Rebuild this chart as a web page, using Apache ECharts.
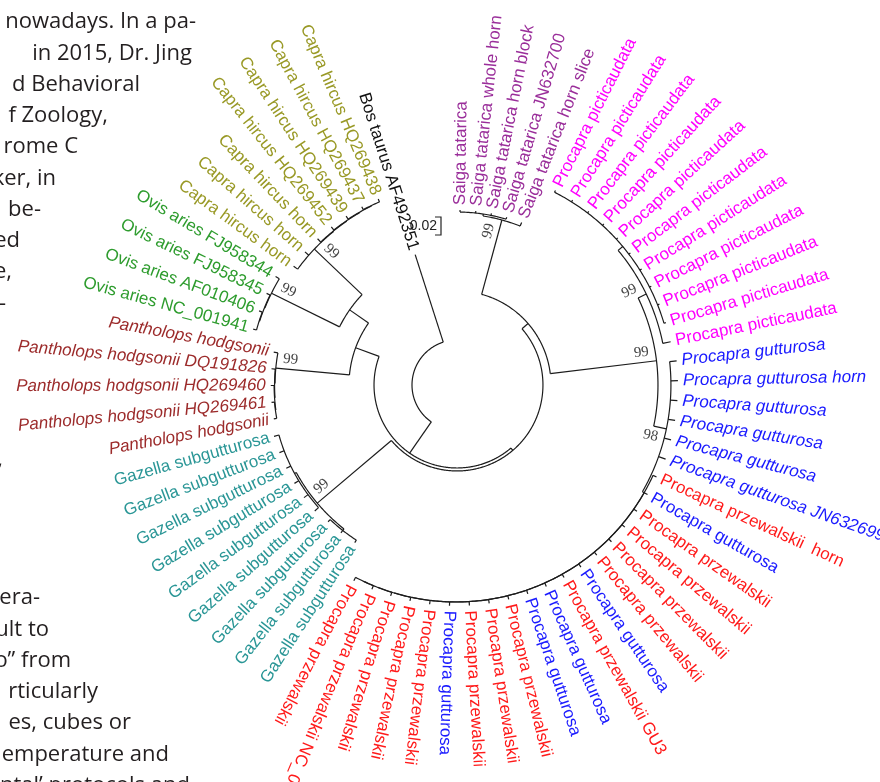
<!DOCTYPE html>
<html><head><meta charset="utf-8">
<script src="https://cdn.jsdelivr.net/npm/echarts@6.0.0/dist/echarts.min.js"></script>
<style>html,body{margin:0;padding:0;background:#fff}#chart{width:880px;height:782px}</style>
</head><body><div id="chart"></div>
<script>
// ================= DATA =================
const leafNames = [
  'Saiga tatarica','Saiga tatarica whole horn','Saiga tatarica horn block','Saiga tatarica JN632700','Saiga tatarica horn slice',
  'Procapra picticaudata','Procapra picticaudata','Procapra picticaudata','Procapra picticaudata','Procapra picticaudata',
  'Procapra picticaudata','Procapra picticaudata','Procapra picticaudata','Procapra picticaudata','Procapra picticaudata','Procapra picticaudata',
  'Procapra gutturosa','Procapra gutturosa horn','Procapra gutturosa','Procapra gutturosa','Procapra gutturosa','Procapra gutturosa JN632699',
  'Procapra przewalskii  horn','Procapra gutturosa','Procapra przewalskii','Procapra przewalskii','Procapra przewalskii','Procapra przewalskii',
  'Procapra gutturosa','Procapra przewalskii GU3','Procapra gutturosa','Procapra gutturosa',
  'Procapra przewalskii','Procapra przewalskii','Procapra przewalskii','Procapra gutturosa',
  'Procapra przewalskii','Procapra przewalskii','Procapra przewalskii','Procapra przewalskii NC_017624','Procapra przewalskii',
  'Gazella subgutturosa','Gazella subgutturosa','Gazella subgutturosa','Gazella subgutturosa','Gazella subgutturosa',
  'Gazella subgutturosa','Gazella subgutturosa','Gazella subgutturosa','Gazella subgutturosa',
  'Pantholops hodgsonii','Pantholops hodgsonii HQ269461','Pantholops hodgsonii HQ269460','Pantholops hodgsonii DQ191826','Pantholops hodgsonii',
  'Ovis aries NC_001941','Ovis aries AF010406','Ovis aries FJ958345','Ovis aries FJ958344',
  'Capra hircus horn','Capra hircus horn','Capra hircus horn','Capra hircus HQ269452','Capra hircus HQ269439','Capra hircus HQ269437','Capra hircus HQ269438',
  'Bos taurus AF492351'
];
const leafGroup = [
  'sai','sai','sai','sai','sai',
  'pic','pic','pic','pic','pic','pic','pic','pic','pic','pic','pic',
  'gut','gut','gut','gut','gut','gut',
  'prz','gut2','prz','prz','prz','prz','gut2','prz','gut2','gut2','prz','prz','prz','gut2','prz','prz','prz','prz','prz',
  'gaz','gaz','gaz','gaz','gaz','gaz','gaz','gaz','gaz',
  'pan','pan','pan','pan','pan',
  'ovi','ovi','ovi','ovi',
  'cap','cap','cap','cap','cap','cap','cap',
  'bos'
];
// tree topology (leaf = index into leafNames), branch lengths in substitutions/site, bootstrap as node labels
const newick =
  "((((" +
    "((0:0.0022,1:0.0022,2:0.0022,3:0.0022):0.0022,4:0.0044)99:0.0856," +
    "(" +
     "((5:0.0022,6:0.0022,7:0.0022,8:0.0022,9:0.0022,10:0.0022,11:0.0022,12:0.0022,13:0.0022,14:0.0022):0.0067,15:0.0089)99:0.01," +
     "(16:0.0078,17:0.0078,18:0.0078,19:0.0078,20:0.0078,21:0.0083," +
      "(22:0.0042,(23:0.0042,(24:0.0042,(25:0.0042,(26:0.0042,(27:0.0042,(28:0.0042,(29:0.0042,(30:0.0042,(31:0.0042,(32:0.0042,(33:0.0042,(34:0.0042,(35:0.0042,(36:0.0042,(37:0.0042,(38:0.0042,(39:0.0042," +
      "40:0.0042):0.0001):0.0001):0.0001):0.0001):0.0001" +
      "):0.0001):0.0001):0.0001):0.0001):0.0001" +
      "):0.0001):0.0001):0.0001):0.0001):0.0001" +
      "):0.0001):0.0001" +
      "):0.0022" +
     ")98:0.0144" +
    ")99:0.1189" +
   "):0.0089," +
   "((41:0.0033,42:0.0033,43:0.0033):0.0022,(44:0.0056,45:0.0056,46:0.0056,47:0.0056,48:0.0056,49:0.0056):0.0022)99:0.1078" +
  "):0.0033," +
  "(" +
   "((((50:0.0033,51:0.0033):0.0005,52:0.0037):0.0005,53:0.0042):0.0005,54:0.0047)99:0.0822," +
   "(" +
    "(((55:0.0038,56:0.0038):0.0005,57:0.0043):0.0005,58:0.0048)99:0.0844," +
    "(59:0.0056,60:0.0056,(61:0.0051,(62:0.0046,(63:0.0041,(64:0.0036,65:0.0036):0.0005):0.0005):0.0005):0.0005)99:0.0733" +
   "):0.0256" +
  "):0.0278" +
 "):0.0422," +
 "66:0.1022):0.05;";
const scaleBarValue = 0.02;
const articleTop = ['nowadays. In a pa-','in 2015, Dr. Jing','d Behavioral','f Zoology,','rome C','ker, in','be-','ed','e,','-','','','','',','];
const articleBottom = ['era-','ult to','o\u201d from','rticularly','es, cubes or','emperature and','ntal\u2019 protocols and'];

// ================= STYLE / LAYOUT =================
const CENTER = [457, 385];
const PX_PER_UNIT = 900;
const R_MAX = 0.3;
const ANGLE_START = 1, ANGLE_STEP = 5.17, FLIP_FROM = 210.5;
const groupColor = {sai:'#9a2e9a', pic:'#ff00ff', gut:'#1a1aff', gut2:'#1a1aff', prz:'#ff1a1a', gaz:'#2a9696', pan:'#9c2b2b', ovi:'#2e9c2e', cap:'#999926', bos:'#111111'};
const italicGroups = {gut:true, pan:true};
const bootstrapBelow = {98: true};
const LABEL_FONT_SIZE = 17, TIP_GAP = 5;
const topRight = [196,192,140,108,78,56,41,20,12,6,0,0,0,0,3];
const bottomRight = [40,49,71,98,131,169,190];

// ================= TREE PARSE + LAYOUT =================
function parseNewick(str) {
  const s = str.replace(/\s+/g, '');
  let i = 0;
  function node() {
    const n = {children: []};
    if (s[i] === '(') {
      i++;
      while (true) {
        n.children.push(node());
        if (s[i] === ',') { i++; continue; }
        if (s[i] === ')') { i++; break; }
        throw new Error('bad newick at ' + i);
      }
    }
    let name = '';
    while (i < s.length && !',():;'.includes(s[i])) name += s[i++];
    n.name = name;
    n.len = 0;
    if (s[i] === ':') {
      i++; let num = '';
      while (i < s.length && !',();'.includes(s[i])) num += s[i++];
      n.len = parseFloat(num);
    }
    return n;
  }
  return node();
}
const root = parseNewick(newick);
function layout(n, parentR) {
  n.r = parentR + n.len;
  if (!n.children.length) {
    n.leaf = parseInt(n.name, 10);
    n.a = ANGLE_START + n.leaf * ANGLE_STEP;
  } else {
    n.children.forEach(c => layout(c, n.r));
    n.a = (n.children[0].a + n.children[n.children.length - 1].a) / 2;
  }
}
layout(root, 0);
const segs = [], tips = [], boots = [];
(function walk(n, parent) {
  if (parent) segs.push([parent.r, n.a, n.r, n.a, 0]);
  if (n.children.length) {
    segs.push([n.r, n.children[0].a, n.r, n.children[n.children.length - 1].a, 1]);
    if (n.name && parent) boots.push([n.r, n.a, parseInt(n.name, 10)]);
    n.children.forEach(c => walk(c, n));
  } else {
    tips.push([n.r, n.a, n.leaf]);
  }
})(root, null);

// ================= CHART =================
const chart = echarts.init(document.getElementById('chart'), null, {renderer: 'canvas'});
const deg = Math.PI / 180;
function textFrame(a) {
  const flipped = a > FLIP_FROM;
  const rotDeg = flipped ? (270 - a) : (90 - a);
  return {flipped, rot: rotDeg * deg};
}
const graphics = [];
articleTop.forEach((t, k) => {
  if (!t) return;
  graphics.push({type: 'text', x: topRight[k], y: 29 + k * 31.25 - 7, silent: true,
    style: {text: t, font: '22px "Open Sans"', fill: '#231f20', textAlign: 'right', textVerticalAlign: 'middle'}});
});
articleBottom.forEach((t, k) => {
  graphics.push({type: 'text', x: bottomRight[k], y: 605 + k * 31.3 - 7, silent: true,
    style: {text: t, font: '22px "Open Sans"', fill: '#231f20', textAlign: 'right', textVerticalAlign: 'middle'}});
});

chart.setOption({
  animation: false,
  backgroundColor: '#ffffff',
  polar: {center: CENTER, radius: R_MAX * PX_PER_UNIT},
  radiusAxis: {type: 'value', min: 0, max: R_MAX, show: false},
  angleAxis: {type: 'value', min: 0, max: 360, startAngle: 90, clockwise: true, show: false},
  graphic: graphics,
  series: [
    {
      type: 'custom', coordinateSystem: 'polar', silent: true, data: segs,
      renderItem: (params, api) => {
        const r1 = api.value(0), a1 = api.value(1), r2 = api.value(2), a2 = api.value(3), t = api.value(4);
        const pts = [];
        if (t === 0) { pts.push(api.coord([r1, a1]), api.coord([r2, a2])); }
        else {
          const n = Math.max(2, Math.ceil(Math.abs(a2 - a1) / 0.5));
          for (let k = 0; k <= n; k++) pts.push(api.coord([r1, a1 + (a2 - a1) * k / n]));
        }
        return {type: 'polyline', shape: {points: pts}, style: {stroke: '#1c1c1c', lineWidth: 1.2, fill: null}};
      }
    },
    {
      type: 'custom', coordinateSystem: 'polar', silent: true, data: tips,
      renderItem: (params, api) => {
        const r = api.value(0), a = api.value(1), idx = api.value(2);
        const name = leafNames[idx];
        if (!name) return null;
        const p = api.coord([r, a]), c = api.coord([0, a]);
        const dx = p[0] - c[0], dy = p[1] - c[1], L = Math.hypot(dx, dy);
        const ux = dx / L, uy = dy / L;
        const f = textFrame(a);
        const g = leafGroup[idx];
        return {type: 'text', x: p[0] + ux * TIP_GAP, y: p[1] + uy * TIP_GAP, rotation: f.rot,
          style: {text: name, fill: groupColor[g],
            font: (italicGroups[g] ? 'italic ' : '') + LABEL_FONT_SIZE + 'px "Liberation Sans", Arial, sans-serif',
            textAlign: f.flipped ? 'right' : 'left', textVerticalAlign: 'middle'}};
      }
    },
    {
      type: 'custom', coordinateSystem: 'polar', silent: true, data: boots,
      renderItem: (params, api) => {
        const r = api.value(0), a = api.value(1), v = api.value(2);
        const p = api.coord([r, a]), c = api.coord([0, a]);
        const dx = p[0] - c[0], dy = p[1] - c[1], L = Math.hypot(dx, dy);
        const ux = dx / L, uy = dy / L;
        const f = textFrame(a);
        const side = bootstrapBelow[v] ? -1 : 1;
        const upx = -Math.sin(f.rot) * side, upy = -Math.cos(f.rot) * side;
        const x = p[0] - ux * 14 + upx * 10, y = p[1] - uy * 14 + upy * 10;
        return {type: 'text', x, y, rotation: f.rot,
          style: {text: String(v), fill: '#444', font: '15px "Liberation Serif", "Times New Roman", serif',
            textAlign: 'center', textVerticalAlign: 'middle'}};
      }
    },
    {
      type: 'custom', coordinateSystem: 'polar', silent: true, data: [[scaleBarValue, 0]],
      renderItem: (params, api) => {
        const p0 = api.coord([0, 90]), p1 = api.coord([api.value(0), 90]);
        const len = p1[0] - p0[0];
        const x = 441, y0 = 217;
        return {type: 'group', children: [
          {type: 'polyline', shape: {points: [[x - 6, y0], [x, y0], [x, y0 + len], [x - 6, y0 + len]]}, style: {stroke: '#222', lineWidth: 1.2, fill: null}},
          {type: 'text', x: x - 4, y: y0 + len / 2, style: {text: String(api.value(0)), fill: '#222', font: '14px "Liberation Sans", Arial', textAlign: 'right', textVerticalAlign: 'middle'}}
        ]};
      }
    }
  ]
});
</script></body></html>
